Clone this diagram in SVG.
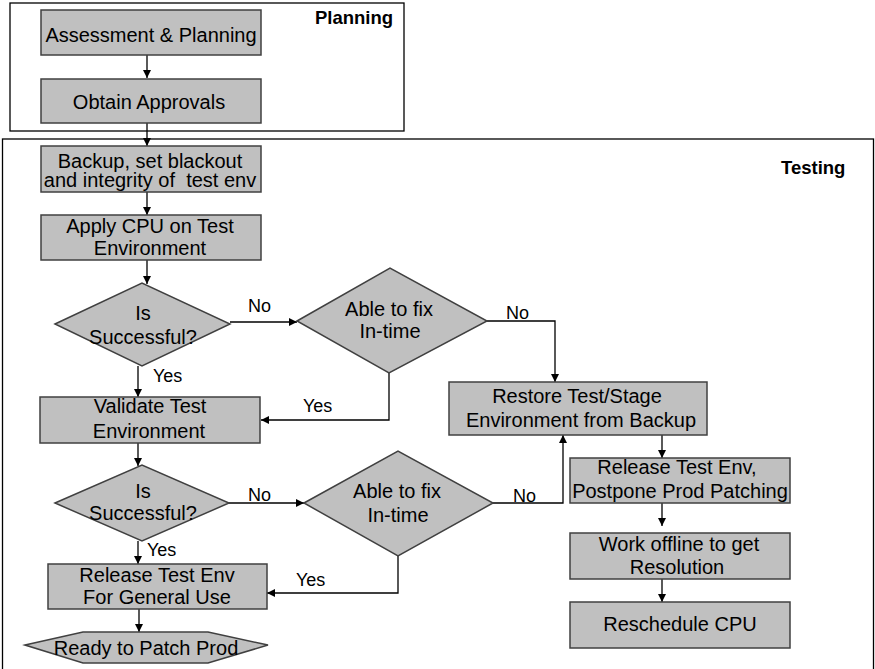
<svg xmlns="http://www.w3.org/2000/svg" width="875" height="669" viewBox="0 0 875 669">
<style>
.bg{fill:#ffffff}
.lane{fill:none;stroke:#000;stroke-width:1.3}
.box{fill:#c0c0c0;stroke:#404040;stroke-width:1.5}
.t{font-family:"Liberation Sans",Arial,sans-serif;font-size:20px;fill:#000;text-anchor:middle}
.lbl{font-family:"Liberation Sans",Arial,sans-serif;font-size:18px;fill:#000;text-anchor:start}
.title{font-family:"Liberation Sans",Arial,sans-serif;font-size:18.5px;font-weight:bold;fill:#000}
.c{fill:none;stroke:#000;stroke-width:1.3}
</style>
<defs>
<marker id="ah" viewBox="0 0 10 10" refX="10" refY="5" markerWidth="8" markerHeight="8" markerUnits="userSpaceOnUse" orient="auto">
<path d="M0,0 L10,5 L0,10 z" fill="#000"/>
</marker>
</defs>
<rect class="bg" x="0" y="0" width="875" height="669"/>

<g id="lane-planning">
<rect class="lane" x="10" y="3" width="394" height="128"/>
<text class="title" x="315" y="24">Planning</text>
</g>
<g id="lane-testing">
<rect class="lane" x="2.5" y="139" width="871" height="540"/>
<text class="title" x="781" y="174">Testing</text>
</g>

<g id="connectors">
<path class="c" d="M147,55 V78" marker-end="url(#ah)"/>
<path class="c" d="M147,123 V146" marker-end="url(#ah)"/>
<path class="c" d="M147,192 V215" marker-end="url(#ah)"/>
<path class="c" d="M147,260 V284" marker-end="url(#ah)"/>
<path class="c" d="M230,322 H297" marker-end="url(#ah)"/>
<path class="c" d="M487,321 H555 V382" marker-end="url(#ah)"/>
<path class="c" d="M138,366 V397" marker-end="url(#ah)"/>
<path class="c" d="M389,373 V420 H261" marker-end="url(#ah)"/>
<path class="c" d="M138,443 V466" marker-end="url(#ah)"/>
<path class="c" d="M229,503 H304" marker-end="url(#ah)"/>
<path class="c" d="M493,503 H563 V435" marker-end="url(#ah)"/>
<path class="c" d="M138,541 V564" marker-end="url(#ah)"/>
<path class="c" d="M398,556 V593 H267" marker-end="url(#ah)"/>
<path class="c" d="M139,609 V632" marker-end="url(#ah)"/>
<path class="c" d="M662,435 V458" marker-end="url(#ah)"/>
<path class="c" d="M662,503 V526" marker-end="url(#ah)"/>
<path class="c" d="M662,579 V602" marker-end="url(#ah)"/>
<text class="lbl" x="248" y="312">No</text>
<text class="lbl" x="506" y="319">No</text>
<text class="lbl" x="153" y="382">Yes</text>
<text class="lbl" x="303" y="412">Yes</text>
<text class="lbl" x="248" y="501">No</text>
<text class="lbl" x="513" y="502">No</text>
<text class="lbl" x="147" y="556">Yes</text>
<text class="lbl" x="296" y="586">Yes</text>
</g>

<g id="n-assessment">
<rect class="box" x="41" y="10" width="220" height="45"/>
<text class="t" x="151" y="42">Assessment &amp; Planning</text>
</g>
<g id="n-approvals">
<rect class="box" x="41" y="79" width="220" height="44"/>
<text class="t" x="149" y="109">Obtain Approvals</text>
</g>
<g id="n-backup">
<rect class="box" x="41" y="146" width="220" height="46"/>
<text class="t" x="150" y="168">Backup, set blackout</text>
<text class="t" x="150" y="187">and integrity of&#160; test env</text>
</g>
<g id="n-apply">
<rect class="box" x="41" y="215" width="220" height="45"/>
<text class="t" x="150" y="233">Apply CPU on Test</text>
<text class="t" x="150" y="255">Environment</text>
</g>
<g id="n-success1">
<polygon class="box" points="55,324 142,283 230,324 142,366"/>
<text class="t" x="143" y="320">Is</text>
<text class="t" x="143" y="344">Successful?</text>
</g>
<g id="n-fix1">
<polygon class="box" points="297,321 390,268 487,321 389,373"/>
<text class="t" x="389" y="316">Able to fix</text>
<text class="t" x="390" y="338">In-time</text>
</g>
<g id="n-validate">
<rect class="box" x="40" y="397" width="220" height="46"/>
<text class="t" x="150" y="413">Validate Test</text>
<text class="t" x="149" y="438">Environment</text>
</g>
<g id="n-success2">
<polygon class="box" points="55,503 142,465 229,503 142,541"/>
<text class="t" x="143" y="498">Is</text>
<text class="t" x="143" y="520">Successful?</text>
</g>
<g id="n-fix2">
<polygon class="box" points="304,503 398,451 493,503 398,556"/>
<text class="t" x="397" y="498">Able to fix</text>
<text class="t" x="398" y="522">In-time</text>
</g>
<g id="n-release">
<rect class="box" x="48" y="564" width="219" height="45"/>
<text class="t" x="157" y="582">Release Test Env</text>
<text class="t" x="157" y="604">For General Use</text>
</g>
<g id="n-ready">
<polygon class="box" points="25,645 83,632 208,632 268,645 208,663 83,663"/>
<text class="t" x="146" y="655">Ready to Patch Prod</text>
</g>
<g id="n-restore">
<rect class="box" x="449" y="382" width="258" height="53"/>
<text class="t" x="577" y="403">Restore Test/Stage</text>
<text class="t" x="581" y="427">Environment from Backup</text>
</g>
<g id="n-postpone">
<rect class="box" x="570" y="458" width="220" height="45"/>
<text class="t" x="677" y="474">Release Test Env,</text>
<text class="t" x="680" y="498">Postpone Prod Patching</text>
</g>
<g id="n-offline">
<rect class="box" x="570" y="533" width="220" height="46"/>
<text class="t" x="679" y="551">Work offline to get</text>
<text class="t" x="677" y="574">Resolution</text>
</g>
<g id="n-reschedule">
<rect class="box" x="570" y="602" width="220" height="46"/>
<text class="t" x="680" y="631">Reschedule CPU</text>
</g>
</svg>
